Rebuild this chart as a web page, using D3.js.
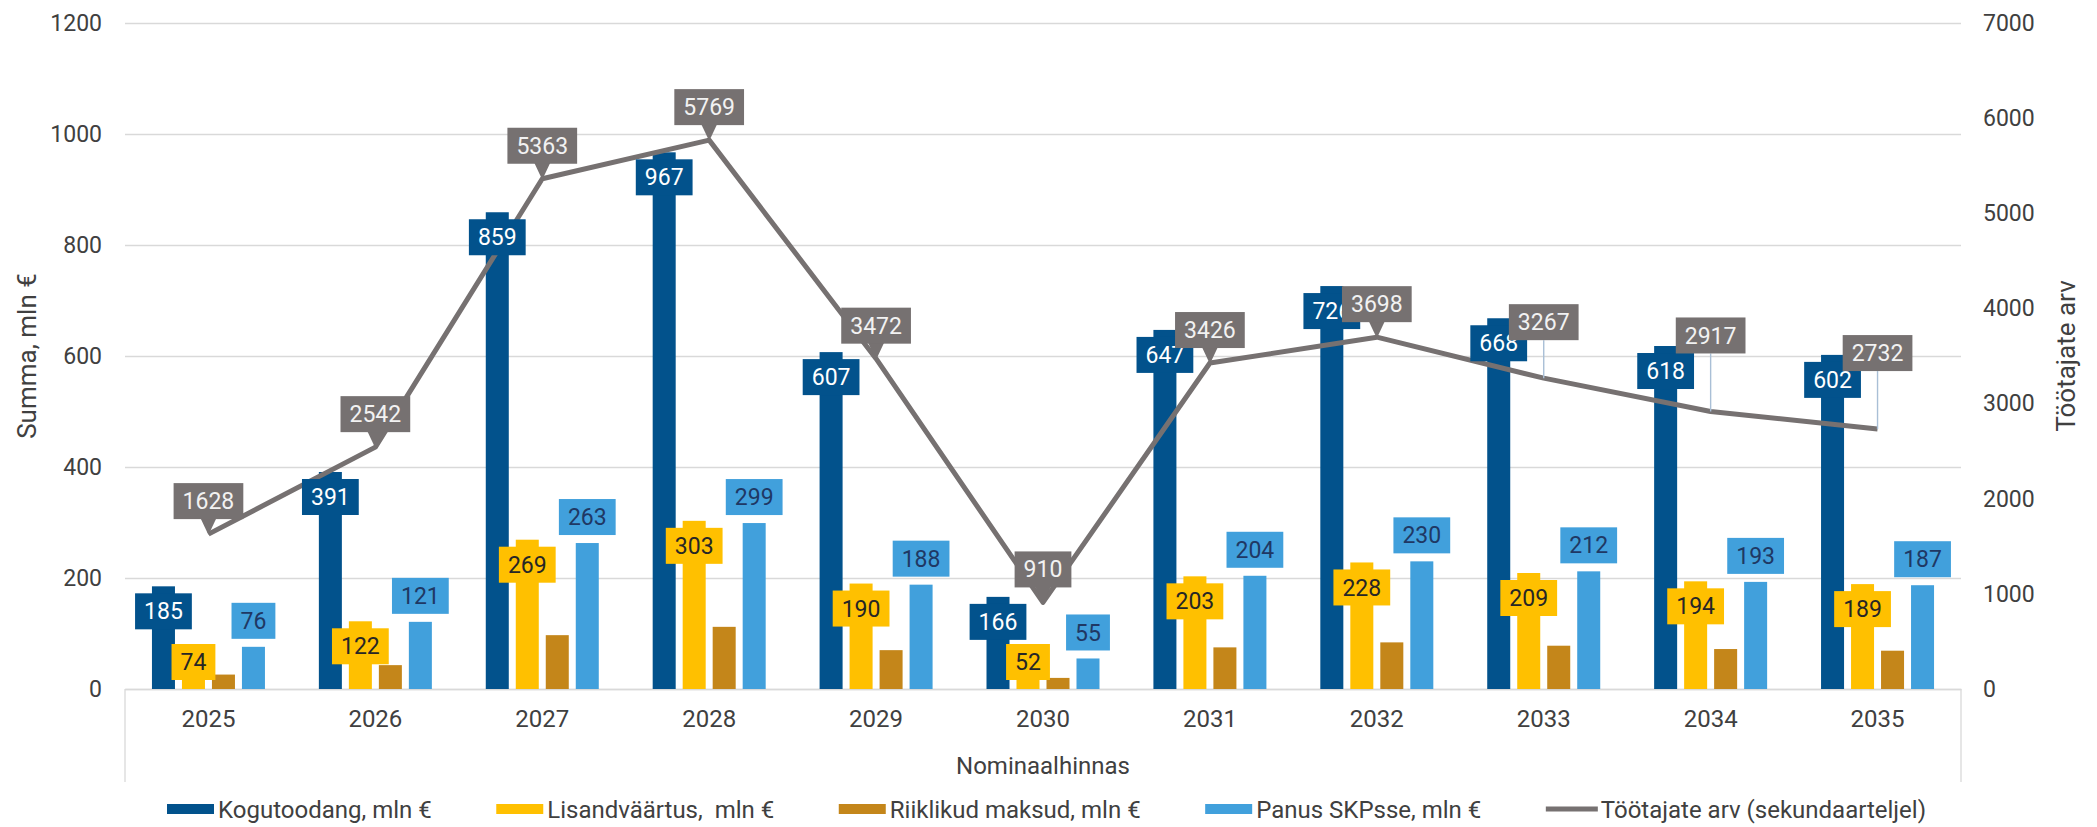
<!DOCTYPE html>
<html>
<head>
<meta charset="utf-8">
<script src="https://cdn.jsdelivr.net/npm/d3@7"></script>
<style>
    body { margin: 0; background: #fff; }
    svg { display: block; font-family: Roboto, "Noto Sans", sans-serif; }
</style>
</head>
<body>
<svg id="chart"></svg>
<script>
const years = ["2025", "2026", "2027", "2028", "2029", "2030", "2031", "2032", "2033", "2034", "2035"]

const kogutoodang = [185, 391, 859, 967, 607, 166, 647, 726, 668, 618, 602]
const lisandvaartus = [74, 122, 269, 303, 190, 52, 203, 228, 209, 194, 189]
const riiklikudMaksud = [26, 43, 97, 112, 70, 20, 75, 84, 78, 72, 69]
const panusSKP = [76, 121, 263, 299, 188, 55, 204, 230, 212, 193, 187]
const tootajad = [1628, 2542, 5363, 5769, 3472, 910, 3426, 3698, 3267, 2917, 2732]

const leftTicks = [0, 200, 400, 600, 800, 1000, 1200]
const rightTicks = [0, 1000, 2000, 3000, 4000, 5000, 6000, 7000]

const seriesNames = [
    "Kogutoodang, mln €",
    "Lisandväärtus,  mln €",
    "Riiklikud maksud, mln €",
    "Panus SKPsse, mln €",
    "Töötajate arv (sekundaarteljel)"
]

// layout only: how far above its point each worker label sits
const workerLabelLift = [15, 15, 15, 15, 15, 15, 15, 15, 38, 58, 58]

const W = 2097, H = 827
const plot = { left: 125, right: 1961, top: 23, bottom: 689 }
const textColor = "#404040"
const gridColor = "#d9d9d9"

const barSeries = [
    { key: "kogu", values: kogutoodang, color: "#02528c", labelFill: "#02528c", labelText: "#ffffff", place: "inside" },
    { key: "lisa", values: lisandvaartus, color: "#ffc000", labelFill: "#ffc000", labelText: "#262626", place: "inside" },
    { key: "riik", values: riiklikudMaksud, color: "#c4861a", labelFill: null, place: "none" },
    { key: "panus", values: panusSKP, color: "#41a0dc", labelFill: "#41a0dc", labelText: "#1f3864", place: "outside" }
]
const lineColor = "#767171"

const svg = d3.select("#chart").attr("width", W).attr("height", H)
svg.append("rect").attr("width", W).attr("height", H).attr("fill", "#fff")

const x = d3.scaleBand().domain(years).range([plot.left, plot.right]).padding(0)
const xs = d3.scaleBand().domain(barSeries.map(s => s.key)).range([-56.5, 56.5]).paddingInner(0.233)
const y = d3.scaleLinear().domain([0, 1200]).range([plot.bottom, plot.top])
const y2 = d3.scaleLinear().domain([0, 7000]).range([plot.bottom, plot.top])
const cx = yr => x(yr) + x.bandwidth() / 2

// gridlines
svg.append("g")
    .attr("transform", `translate(${plot.left},0)`)
    .call(d3.axisLeft(y).tickValues(leftTicks).tickSize(-(plot.right - plot.left)).tickFormat(""))
    .call(g => g.select(".domain").remove())
    .call(g => g.selectAll("line").attr("stroke", gridColor).attr("stroke-width", 1.3))

// plot-area side borders under the category axis
svg.selectAll(".side")
    .data([plot.left, plot.right])
    .join("line")
    .attr("x1", d => d).attr("x2", d => d)
    .attr("y1", plot.bottom).attr("y2", 782)
    .attr("stroke", gridColor).attr("stroke-width", 1.3)

// left axis
svg.append("g")
    .attr("transform", `translate(${plot.left},0)`)
    .call(d3.axisLeft(y).tickValues(leftTicks).tickFormat(d3.format("d")).tickSize(0).tickPadding(23))
    .call(g => g.select(".domain").remove())
    .call(g => g.selectAll("text").attr("font-size", 23).attr("fill", textColor).attr("font-family", "Roboto, sans-serif"))

// right axis
svg.append("g")
    .attr("transform", `translate(${plot.right},0)`)
    .call(d3.axisRight(y2).tickValues(rightTicks).tickFormat(d3.format("d")).tickSize(0).tickPadding(22))
    .call(g => g.select(".domain").remove())
    .call(g => g.selectAll("text").attr("font-size", 23).attr("fill", textColor).attr("font-family", "Roboto, sans-serif"))

// x axis
svg.append("g")
    .attr("transform", `translate(0,${plot.bottom})`)
    .call(d3.axisBottom(x).tickSize(0).tickPadding(21))
    .call(g => g.select(".domain").attr("stroke", gridColor).attr("stroke-width", 1.3))
    .call(g => g.selectAll("text").attr("font-size", 24).attr("fill", textColor).attr("font-family", "Roboto, sans-serif"))

svg.append("text")
    .attr("x", (plot.left + plot.right) / 2).attr("y", 774)
    .attr("text-anchor", "middle")
    .attr("font-size", 24).attr("fill", textColor)
    .text("Nominaalhinnas")

svg.append("text")
    .attr("transform", `translate(27,${(plot.top + plot.bottom) / 2}) rotate(-90)`)
    .attr("text-anchor", "middle").attr("dy", "0.35em")
    .attr("font-size", 26).attr("fill", textColor)
    .text("Summa, mln €")

svg.append("text")
    .attr("transform", `translate(2066,${(plot.top + plot.bottom) / 2}) rotate(-90)`)
    .attr("text-anchor", "middle").attr("dy", "0.35em")
    .attr("font-size", 26).attr("fill", textColor)
    .text("Töötajate arv")

// bars
const barG = svg.append("g")
barSeries.forEach(s => {
    barG.selectAll(".bar-" + s.key)
        .data(s.values.map((v, i) => ({ year: years[i], value: v })))
        .join("rect")
        .attr("x", d => cx(d.year) + xs(s.key))
        .attr("width", xs.bandwidth())
        .attr("y", d => y(d.value))
        .attr("height", d => y(0) - y(d.value))
        .attr("fill", s.color)
})

// worker line
const line = d3.line()
    .x((d, i) => cx(years[i]))
    .y(d => y2(d))
svg.append("path")
    .datum(tootajad)
    .attr("d", line)
    .attr("fill", "none")
    .attr("stroke", lineColor)
    .attr("stroke-width", 5)
    .attr("stroke-linejoin", "round")

// label boxes
const boxH = 36
const labelG = svg.append("g")

function addBox(g, cxPos, top, text, fill, textFill) {
    const t = g.append("text")
        .attr("x", cxPos).attr("y", top + boxH / 2)
        .attr("dy", "0.35em")
        .attr("text-anchor", "middle")
        .attr("font-size", 23)
        .attr("fill", textFill)
        .text(text)
    const w = t.node().getComputedTextLength() + 18
    g.insert("rect", "text")
        .attr("x", cxPos - w / 2).attr("y", top)
        .attr("width", w).attr("height", boxH)
        .attr("fill", fill)
}

barSeries.forEach(s => {
    if (s.place === "none") return
    s.values.forEach((v, i) => {
        const bx = cx(years[i]) + xs(s.key) + xs.bandwidth() / 2
        let top
        if (s.place === "inside") {
            top = Math.min(y(v) + 7, y(0) - 9 - boxH)
        } else {
            top = y(v) - 8 - boxH
        }
        addBox(labelG.append("g"), bx, top, v, s.labelFill, s.labelText)
    })
})

tootajad.forEach((v, i) => {
    const px = cx(years[i]), py = y2(v)
    const lift = workerLabelLift[i]
    const bottom = py - lift
    const g = labelG.append("g")
    if (lift > 20) {
        g.append("line")
            .attr("x1", px).attr("x2", px)
            .attr("y1", bottom).attr("y2", py)
            .attr("stroke", "#a9bfd6").attr("stroke-width", 1.4)
    } else {
        g.append("path")
            .attr("d", `M${px - 8},${bottom - 1}L${px + 8},${bottom - 1}L${px},${py + 1}Z`)
            .attr("fill", lineColor)
    }
    addBox(g, px, bottom - boxH, v, lineColor, "#f2f2f2")
})

// legend
const legendY = 809
const legendG = svg.append("g")
const swatchW = 47
const items = seriesNames.map((name, i) => {
    const g = legendG.append("g")
    if (i < 4) {
        g.append("rect")
            .attr("x", 0).attr("y", legendY - 5)
            .attr("width", swatchW).attr("height", 10)
            .attr("fill", barSeries[i].color)
    } else {
        g.append("line")
            .attr("x1", 0).attr("x2", swatchW + 5)
            .attr("y1", legendY).attr("y2", legendY)
            .attr("stroke", lineColor).attr("stroke-width", 5)
    }
    const tx = i < 4 ? swatchW + 4 : swatchW + 8
    const t = g.append("text")
        .attr("x", tx)
        .attr("y", legendY).attr("dy", "0.36em")
        .attr("font-size", 24).attr("fill", textColor)
        .style("white-space", "pre")
        .text(name)
    return { g, w: tx + t.node().getComputedTextLength() }
})
const legendLeft = 167, legendRight = 1926
const gap = (legendRight - legendLeft - d3.sum(items, d => d.w)) / (items.length - 1)
let lx = legendLeft
items.forEach(it => {
    it.g.attr("transform", `translate(${lx},0)`)
    lx += it.w + gap
})
</script>
</body>
</html>
